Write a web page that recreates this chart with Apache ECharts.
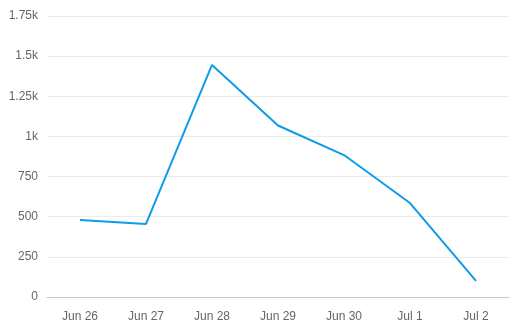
<!DOCTYPE html>
<html><head><meta charset="utf-8">
<script src="https://cdn.jsdelivr.net/npm/echarts@6/dist/echarts.min.js"></script>
<style>html,body{margin:0;padding:0;background:#fff}#c{width:514px;height:331px}</style>
</head><body><div id="c"></div>
<script>
const categories = ['Jun 26','Jun 27','Jun 28','Jun 29','Jun 30','Jul 1','Jul 2'];
const values = [480, 455, 1445, 1068, 884, 585, 100];
const chart = echarts.init(document.getElementById('c'), null, {renderer:'canvas'});
chart.setOption({
  animation:false,
  grid:{left:47,right:5,top:16,bottom:34},
  xAxis:{type:'category',data:categories,boundaryGap:true,
    axisLine:{lineStyle:{color:'#c8c8c8'}},
    axisTick:{alignWithLabel:true,lineStyle:{color:'#c8c8c8'}},
    axisLabel:{color:'#666',fontFamily:'Liberation Sans, Arial',fontSize:12,margin:14}},
  yAxis:{type:'value',min:0,max:1750,interval:250,
    axisLine:{show:false},axisTick:{show:false},
    splitLine:{lineStyle:{color:'#ebebeb'}},
    axisLabel:{color:'#666',fontFamily:'Liberation Sans, Arial',fontSize:12,margin:9,
      formatter:v=>v>=1000?(v/1000)+'k':String(v)}},
  series:[{type:'line',data:values,symbol:'none',lineStyle:{color:'#0e9be8',width:2}}]
});
</script></body></html>
